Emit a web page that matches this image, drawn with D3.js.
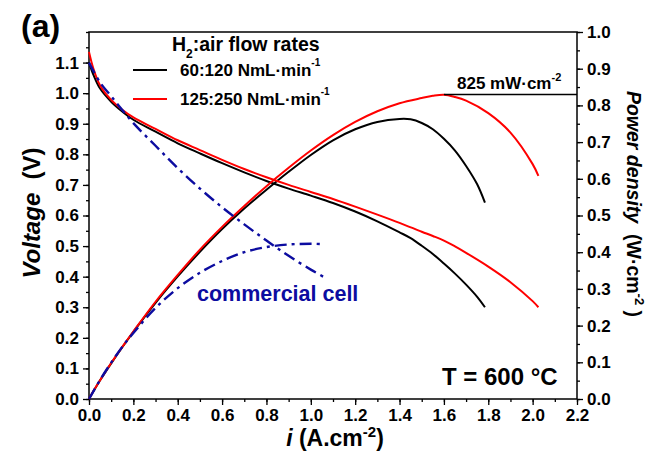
<!DOCTYPE html>
<html>
<head>
<meta charset="utf-8">
<script src="https://cdn.jsdelivr.net/npm/d3@7/dist/d3.min.js"></script>
<style>
  body { margin: 0; background: #fff; }
  svg { display: block; font-family: "Liberation Sans", Arial, sans-serif; font-weight: bold; }
</style>
</head>
<body>
<div id="graphic"></div>
<script>
// 60:120 NmL/min (black)
const iBlack = [0, 0.02, 0.05, 0.1, 0.15, 0.2, 0.3, 0.4, 0.5, 0.6, 0.7, 0.8, 0.9, 1.0, 1.1, 1.2, 1.3, 1.4, 1.45, 1.5, 1.55, 1.6, 1.65, 1.7, 1.75, 1.785]
const vBlack = [1.10, 1.06, 1.015, 0.972, 0.94, 0.913, 0.874, 0.836, 0.803, 0.771, 0.741, 0.713, 0.688, 0.665, 0.641, 0.613, 0.581, 0.545, 0.526, 0.501, 0.474, 0.443, 0.41, 0.374, 0.334, 0.30]
const pBlack = [0, 0.021, 0.051, 0.097, 0.141, 0.183, 0.262, 0.334, 0.401, 0.463, 0.519, 0.570, 0.619, 0.665, 0.705, 0.735, 0.755, 0.763, 0.762, 0.752, 0.735, 0.709, 0.677, 0.635, 0.585, 0.535]

// 125:250 NmL/min (red)
const iRed = [0, 0.02, 0.05, 0.1, 0.15, 0.2, 0.3, 0.4, 0.5, 0.6, 0.7, 0.8, 0.9, 1.0, 1.1, 1.2, 1.3, 1.4, 1.5, 1.55, 1.6, 1.65, 1.7, 1.8, 1.9, 2.0, 2.026]
const vRed = [1.135, 1.08, 1.025, 0.978, 0.946, 0.921, 0.883, 0.846, 0.814, 0.782, 0.752, 0.725, 0.700, 0.677, 0.654, 0.629, 0.603, 0.576, 0.547, 0.533, 0.518, 0.499, 0.478, 0.433, 0.382, 0.32, 0.30]
const pRed = [0, 0.022, 0.051, 0.098, 0.142, 0.184, 0.265, 0.338, 0.407, 0.469, 0.526, 0.580, 0.630, 0.677, 0.719, 0.755, 0.784, 0.806, 0.820, 0.826, 0.829, 0.823, 0.813, 0.779, 0.726, 0.640, 0.608]

// commercial cell (blue dash-dot)
const iCom = [0, 0.05, 0.1, 0.15, 0.2, 0.3, 0.4, 0.5, 0.6, 0.7, 0.8, 0.9, 1.0, 1.056]
const vCom = [1.10, 1.035, 0.99, 0.945, 0.902, 0.828, 0.755, 0.688, 0.627, 0.571, 0.518, 0.468, 0.423, 0.40]
const pCom = [0, 0.052, 0.099, 0.142, 0.18, 0.248, 0.302, 0.344, 0.376, 0.40, 0.414, 0.421, 0.423, 0.422]

const xTicks = [0, 0.2, 0.4, 0.6, 0.8, 1.0, 1.2, 1.4, 1.6, 1.8, 2.0, 2.2]
const vTicks = [0, 0.1, 0.2, 0.3, 0.4, 0.5, 0.6, 0.7, 0.8, 0.9, 1.0, 1.1]
const pTicks = [0, 0.1, 0.2, 0.3, 0.4, 0.5, 0.6, 0.7, 0.8, 0.9, 1.0]
const peakPower = 0.83

const margin = { top: 32, right: 78, bottom: 57, left: 89 },
    width = 655 - margin.left - margin.right,
    height = 456 - margin.top - margin.bottom;

const root = d3.select("#graphic")
    .append("svg")
    .attr("width", 655)
    .attr("height", 456)
const svg = root.append("g")
    .attr("transform", `translate(${margin.left},${margin.top})`);

const x = d3.scaleLinear().domain([0, 2.2]).range([0, width])
const yV = d3.scaleLinear().domain([0, 1.2]).range([height, 0])
const yP = d3.scaleLinear().domain([0, 1.0]).range([height, 0])

const range = (a, b, s) => d3.range(Math.round((b - a) / s) + 1).map(k => +(a + k * s).toFixed(3))

// minor ticks
svg.append("g").attr("transform", `translate(0,${height})`)
    .call(d3.axisBottom(x).tickValues(range(0, 2.2, 0.1)).tickSize(3).tickFormat(""))
svg.append("g")
    .call(d3.axisLeft(yV).tickValues(range(0, 1.2, 0.05)).tickSize(3).tickFormat(""))
svg.append("g").attr("transform", `translate(${width},0)`)
    .call(d3.axisRight(yP).tickValues(range(0, 1.0, 0.05)).tickSize(3).tickFormat(""))

// major ticks
svg.append("g").attr("transform", `translate(0,${height})`)
    .call(d3.axisBottom(x).tickValues(xTicks).tickSize(6).tickPadding(4).tickFormat(d3.format(".1f")))
svg.append("g")
    .call(d3.axisLeft(yV).tickValues(vTicks).tickSize(6).tickPadding(4).tickFormat(d3.format(".1f")))
svg.append("g").attr("transform", `translate(${width},0)`)
    .call(d3.axisRight(yP).tickValues(pTicks).tickSize(6).tickPadding(4).tickFormat(d3.format(".1f")))

svg.selectAll(".domain").remove()
svg.selectAll(".tick line").attr("stroke", "#000").attr("stroke-width", 1.3)
svg.selectAll(".tick text").attr("font-size", 17).attr("font-weight", "bold")
    .attr("font-family", "Liberation Sans, Arial, sans-serif").attr("fill", "#000")

// frame
svg.append("rect")
    .attr("width", width)
    .attr("height", height)
    .attr("fill", "none")
    .attr("stroke", "#000")
    .attr("stroke-width", 1.5)

const lineV = d3.line().x(d => x(d[0])).y(d => yV(d[1])).curve(d3.curveCatmullRom.alpha(0.5))
const lineP = d3.line().x(d => x(d[0])).y(d => yP(d[1])).curve(d3.curveCatmullRom.alpha(0.5))

const series = [
    { i: iBlack, v: vBlack, p: pBlack, color: "#000", dash: null, w: 2 },
    { i: iRed, v: vRed, p: pRed, color: "#ff0000", dash: null, w: 2 },
    { i: iCom, v: vCom, p: pCom, color: "#0c0ca0", dash: "12,5,3,5", w: 2.4 }
]

series.forEach(s => {
    svg.append("path")
        .datum(s.i.map((d, k) => [d, s.v[k]]))
        .attr("d", lineV)
        .attr("fill", "none")
        .attr("stroke", s.color)
        .attr("stroke-width", s.w)
        .attr("stroke-dasharray", s.dash)
    svg.append("path")
        .datum(s.i.map((d, k) => [d, s.p[k]]))
        .attr("d", lineP)
        .attr("fill", "none")
        .attr("stroke", s.color)
        .attr("stroke-width", s.w)
        .attr("stroke-dasharray", s.dash)
})

// 825 mW peak marker
svg.append("line")
    .attr("x1", x(1.6)).attr("x2", width)
    .attr("y1", yP(peakPower)).attr("y2", yP(peakPower))
    .attr("stroke", "#000").attr("stroke-width", 1.5)

const peakText = svg.append("text")
    .attr("x", 368).attr("y", 57)
    .attr("font-size", 17)
peakText.append("tspan").text("825 mW·cm")
peakText.append("tspan").attr("dy", -8).attr("font-size", 11).text("-2")

// legend
const legTitle = svg.append("text").attr("x", 83).attr("y", 19).attr("font-size", 19.5)
legTitle.append("tspan").text("H")
legTitle.append("tspan").attr("dy", 7).attr("font-size", 12).text("2")
legTitle.append("tspan").attr("dy", -7).text(":air flow rates")

const legItems = [
    { label: "60:120 NmL·min", color: "#000", y: 38 },
    { label: "125:250 NmL·min", color: "#ff0000", y: 67 }
]
legItems.forEach(d => {
    svg.append("line")
        .attr("x1", 44).attr("x2", 78)
        .attr("y1", d.y).attr("y2", d.y)
        .attr("stroke", d.color).attr("stroke-width", 2)
    const t = svg.append("text").attr("x", 91).attr("y", d.y + 6).attr("font-size", 17)
    t.append("tspan").text(d.label)
    t.append("tspan").attr("dy", -10).attr("font-size", 10).text("-1")
})

svg.append("text")
    .attr("x", 108).attr("y", 269)
    .attr("font-size", 21.5)
    .attr("fill", "#0c0ca0")
    .text("commercial cell")

svg.append("text")
    .attr("x", 353).attr("y", 353)
    .attr("font-size", 24)
    .text("T = 600 °C")

// panel label
root.append("text")
    .attr("x", 21).attr("y", 37)
    .attr("font-size", 32)
    .text("(a)")

// axis titles
const xLab = root.append("text")
    .attr("x", 335).attr("y", 446)
    .attr("text-anchor", "middle")
    .attr("font-size", 23)
xLab.append("tspan").attr("font-style", "italic").text("i")
xLab.append("tspan").text(" (A.cm")
xLab.append("tspan").attr("dy", -9).attr("font-size", 15).text("-2")
xLab.append("tspan").attr("dy", 9).text(")")

const yLab = root.append("text")
    .attr("transform", "translate(40,213) rotate(-90)")
    .attr("text-anchor", "middle")
    .attr("font-size", 24)
    .attr("xml:space", "preserve")
yLab.append("tspan").attr("font-style", "italic").text("Voltage")
yLab.append("tspan").text("  (V)")

const rLab = root.append("text")
    .attr("transform", "translate(627,204) rotate(90)")
    .attr("text-anchor", "middle")
    .attr("font-size", 19.5)
    .attr("xml:space", "preserve")
rLab.append("tspan").attr("font-style", "italic").text("Power density")
rLab.append("tspan").text("  (W·cm")
rLab.append("tspan").attr("dy", -8).attr("font-size", 13).text("-2")
rLab.append("tspan").attr("dy", 8).text(" )")
</script>
</body>
</html>
